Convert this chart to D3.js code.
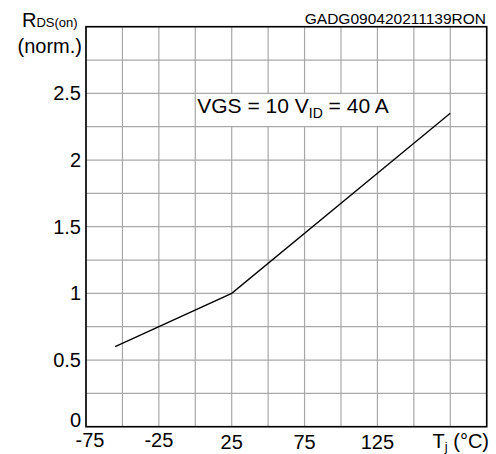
<!DOCTYPE html>
<html>
<head>
<meta charset="utf-8">
<script src="https://cdn.jsdelivr.net/npm/d3@7"></script>
<style>
  html, body { margin: 0; padding: 0; background: #fff; }
  svg { display: block; font-family: "Liberation Sans", Arial, sans-serif; }
</style>
</head>
<body>
<svg id="chart" width="496" height="454"></svg>
<script>
// Normalized on-resistance vs junction temperature
const tempC = [-55, 25, 175];
const rdsNorm = [0.6, 1.0, 2.35];

const xDomain = [-75, 200];
const yDomain = [0, 3];
const xGrid = d3.range(-75, 201, 25);
const yGrid = d3.range(0, 3.001, 0.25);
const xTickLabels = [-75, -25, 25, 75, 125];
const yTickLabels = [0, 0.5, 1, 1.5, 2, 2.5];

const margin = { left: 86, top: 26.7, right: 496 - 486.7, bottom: 454 - 426.7 };
const W = 496, H = 454;

const svg = d3.select("#chart");
const x = d3.scaleLinear().domain(xDomain).range([margin.left, W - margin.right]);
const y = d3.scaleLinear().domain(yDomain).range([H - margin.bottom, margin.top]);

// grid
const grid = svg.append("g").attr("stroke", "#a8a8a8").attr("stroke-width", 1.2);
grid.selectAll("line.v").data(xGrid).join("line")
  .attr("x1", d => x(d)).attr("x2", d => x(d))
  .attr("y1", y(yDomain[0])).attr("y2", y(yDomain[1]));
grid.selectAll("line.h").data(yGrid).join("line")
  .attr("y1", d => y(d)).attr("y2", d => y(d))
  .attr("x1", x(xDomain[0])).attr("x2", x(xDomain[1]));

// condition label box
const boxX0 = 0, boxX1 = 140;
svg.append("rect")
  .attr("x", x(boxX0) + 1).attr("y", y(2.5) + 0.8)
  .attr("width", x(boxX1) - x(boxX0) - 1).attr("height", y(2.25) - y(2.5) - 1.6)
  .attr("fill", "#fff");
const cond = svg.append("text")
  .attr("x", x(boxX0) + 2).attr("y", y(2.5) + 20)
  .attr("font-size", 21).attr("fill", "#000");
cond.append("tspan").text("VGS = 10 V");
cond.append("tspan").attr("font-size", 14).attr("dy", 5).text("ID");
cond.append("tspan").attr("dy", -5).text(" = 40 A");

// frame
svg.append("rect")
  .attr("x", x(xDomain[0])).attr("y", y(yDomain[1]))
  .attr("width", x(xDomain[1]) - x(xDomain[0]))
  .attr("height", y(yDomain[0]) - y(yDomain[1]))
  .attr("fill", "none").attr("stroke", "#000").attr("stroke-width", 1.6);

// data line
const line = d3.line().x((d, i) => x(tempC[i])).y(d => y(d));
svg.append("path")
  .datum(rdsNorm)
  .attr("d", line)
  .attr("fill", "none").attr("stroke", "#000").attr("stroke-width", 1.3);

// y tick labels
svg.append("g").selectAll("text").data(yTickLabels).join("text")
  .attr("x", 81)
  .attr("y", d => d === 0 ? y(d) : y(d) + 7)
  .attr("text-anchor", "end")
  .attr("font-size", 20)
  .text(d => d);

// x tick labels
svg.append("g").selectAll("text").data(xTickLabels).join("text")
  .attr("x", d => x(d) + (d === -75 ? 4 : 0))
  .attr("y", d => d < 0 ? 447 : 449)
  .attr("text-anchor", "middle")
  .attr("font-size", 20)
  .text(d => d);

// x axis title
const xt = svg.append("text").attr("x", 489).attr("y", 448)
  .attr("text-anchor", "end").attr("font-size", 20);
xt.append("tspan").text("T");
xt.append("tspan").attr("font-size", 13).attr("dy", 3).text("j");
xt.append("tspan").attr("dy", -3).text(" (°C)");

// y axis title
const yt = svg.append("text").attr("x", 22).attr("y", 26.5).attr("font-size", 20);
yt.append("tspan").text("R");
yt.append("tspan").attr("font-size", 13).attr("dy", 0).text("DS(on)");
svg.append("text").attr("x", 82).attr("y", 52.5)
  .attr("text-anchor", "end").attr("font-size", 20).text("(norm.)");

// document code
svg.append("text").attr("x", 486).attr("y", 24)
  .attr("text-anchor", "end").attr("font-size", 15.5).text("GADG090420211139RON");
</script>
</body>
</html>
